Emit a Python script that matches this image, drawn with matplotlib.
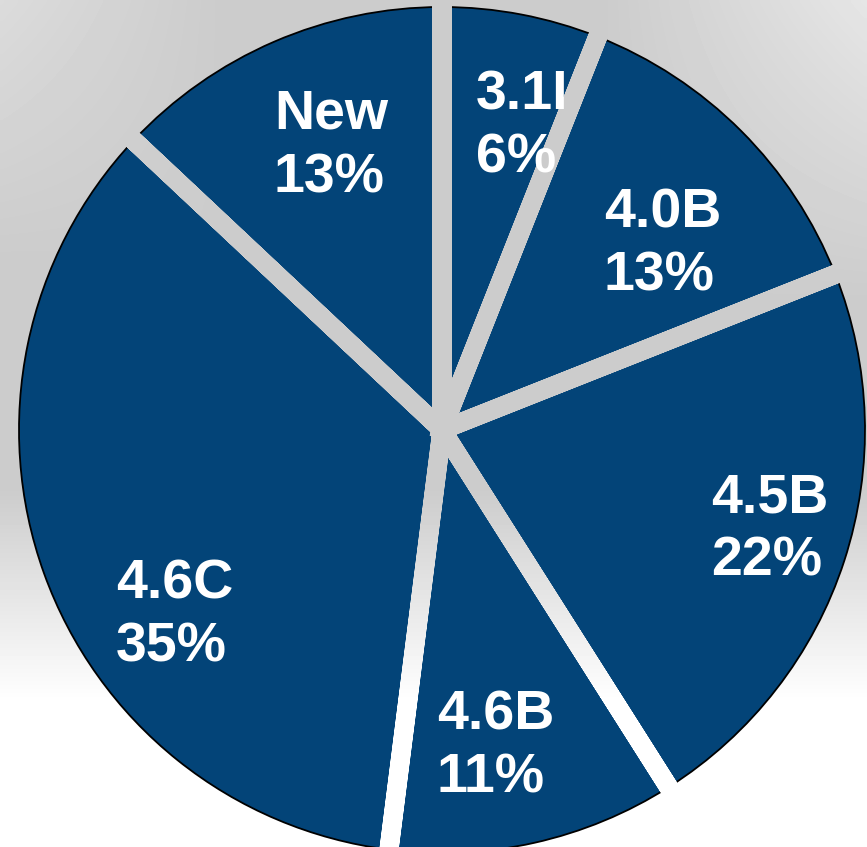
# Exploded-looking pie of version shares, white labels on dark blue wedges
import numpy as np
import matplotlib
matplotlib.use("Agg")
import matplotlib.pyplot as plt
from matplotlib.path import Path
from matplotlib.patches import PathPatch

# Data (clockwise from 12 o'clock)
versions = ["3.1I", "4.0B", "4.5B", "4.6B", "4.6C", "New"]
shares = [6, 13, 22, 11, 35, 13]

# Label placement tweaks (fraction of radius, degrees off the wedge middle)
label_radius = [0.74, 0.68, 0.81, 0.76, 0.77, 0.72]
label_turn = [-4, -5, 1, -3, 15, -2]

blue = "#034478"
W, H = 867, 847
cx, cy = 442, 417   # pie centre in pixels (y up)
R = 423             # radius in pixels
gap = 19            # width of the light strips between wedges


def background():
    # light grey backdrop that fades to white towards the bottom
    yy, xx = np.mgrid[0:1:200j, 0:1:200j]
    fade = np.clip((yy - 0.58) / 0.25, 0, 1)
    tone = 0.80 + 0.2 * fade
    tone += 0.10 * np.clip((xx - 0.7) / 0.3, 0, 1) * np.clip((0.35 - yy) / 0.35, 0, 1)
    tone += 0.06 * np.clip((0.25 - xx) / 0.25, 0, 1) * np.clip((0.3 - yy) / 0.3, 0, 1)
    return np.clip(tone, 0, 1)


def main():
    fig = plt.figure(figsize=(W / 100, H / 100), dpi=100)
    ax = fig.add_axes([0, 0, 1, 1])
    bg = background()
    ax.imshow(bg, cmap="gray", vmin=0, vmax=1, extent=(0, W, 0, H),
              interpolation="bilinear", zorder=0)

    wedges, _ = ax.pie(shares, radius=R, center=(cx, cy), startangle=90,
                       counterclock=False, colors=[blue] * len(shares),
                       wedgeprops=dict(edgecolor="black", linewidth=1.3))
    for w in wedges:
        w.set_zorder(1)

    # strips along every wedge border, filled with the backdrop
    polys = []
    for w in wedges:
        for th in (w.theta1, w.theta2):
            t = np.deg2rad(th)
            u = np.array([np.cos(t), np.sin(t)])
            n = np.array([-np.sin(t), np.cos(t)]) * gap / 2
            c = np.array([cx, cy]) - u * gap / 2
            e = np.array([cx, cy]) + u * R * 1.1
            polys.append(Path([c + n, e + n, e - n, c - n, c + n], closed=True))
    strips = PathPatch(Path.make_compound_path(*polys), transform=ax.transData)
    top = ax.imshow(bg, cmap="gray", vmin=0, vmax=1, extent=(0, W, 0, H),
                    interpolation="bilinear", zorder=2)
    top.set_clip_path(strips)

    for w, name, val, rf, turn in zip(wedges, versions, shares, label_radius, label_turn):
        mid = np.deg2rad((w.theta1 + w.theta2) / 2 + turn)
        ax.text(cx + rf * R * np.cos(mid), cy + rf * R * np.sin(mid),
                f"{name}\n{val}%", color="white", fontsize=40, fontweight="bold",
                family=["Liberation Sans", "DejaVu Sans"], ha="center", va="center",
                multialignment="left", linespacing=1.28, zorder=3)

    ax.set_xlim(0, W)
    ax.set_ylim(0, H)
    ax.set_aspect("auto")
    ax.axis("off")
    fig.savefig("out.png", dpi=100)


if __name__ == '__main__':
    main()
